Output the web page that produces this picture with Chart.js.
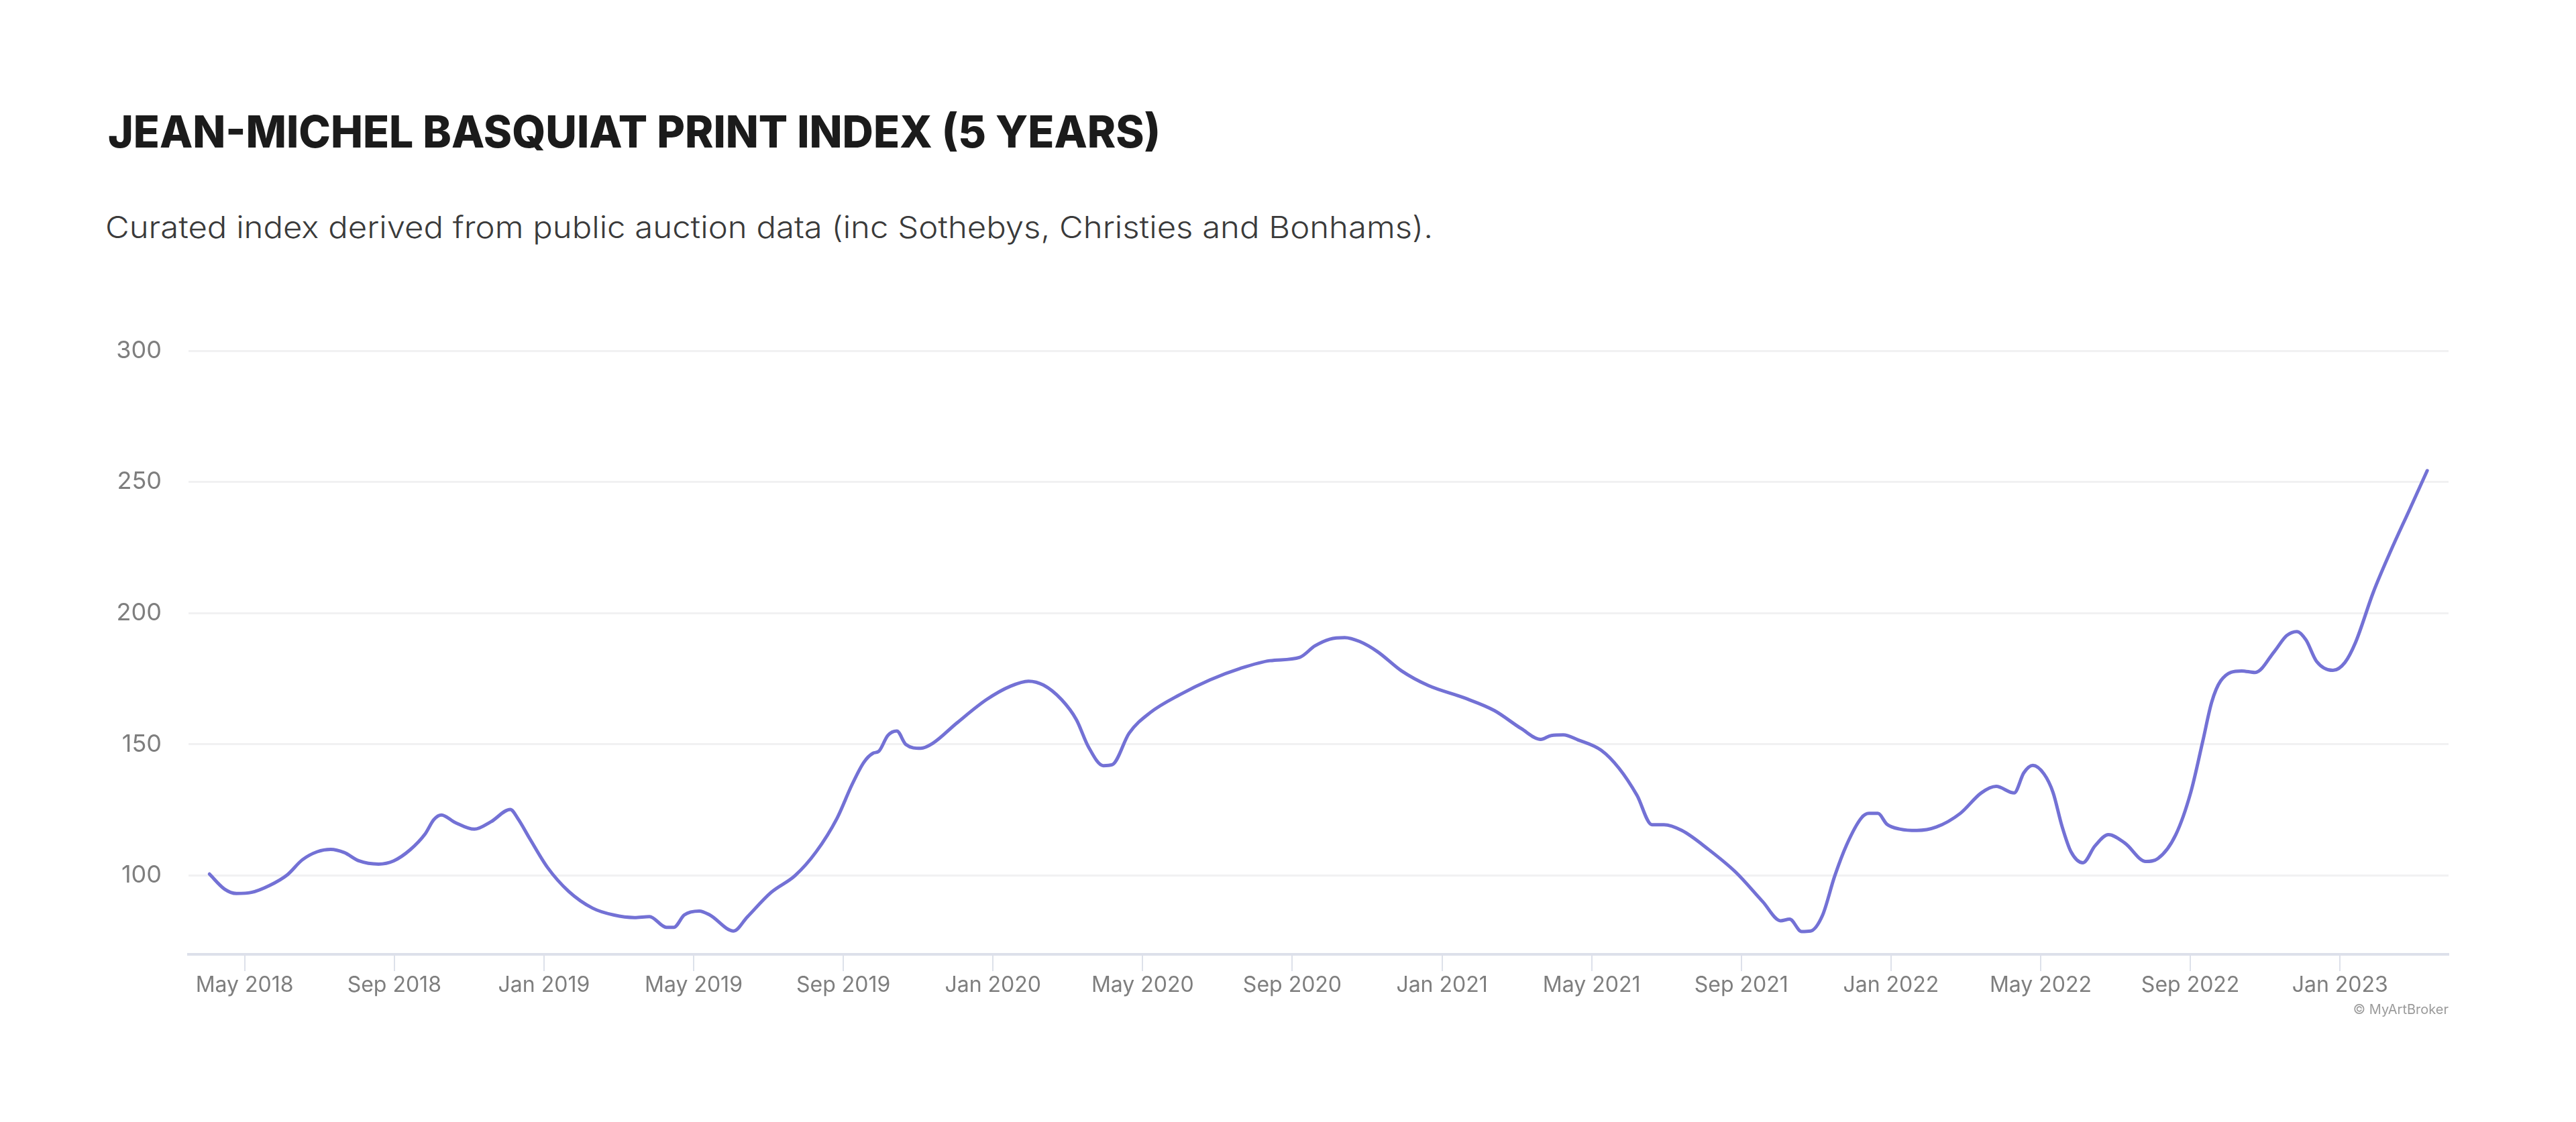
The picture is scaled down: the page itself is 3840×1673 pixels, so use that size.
<!DOCTYPE html>
<html>
<head>
<meta charset="utf-8">
<script src="https://cdn.jsdelivr.net/npm/chart.js@4.4.0/dist/chart.umd.min.js"></script>
<style>
  html, body { margin: 0; padding: 0; background: #ffffff; }
  body { width: 3840px; height: 1673px; position: relative; overflow: hidden; }
  #c { position: absolute; left: 0; top: 0; }
  .txt { position: absolute; white-space: nowrap; line-height: normal; transform-origin: 0 0; }
  #title { font-family: "Inter", "Lato", sans-serif; font-weight: 800; font-size: 66px; color: #1b1b1b; }
  #subtitle { font-family: "Inter", "Lato", sans-serif; font-weight: 300; font-size: 45px; color: #3a3a3a; }
  #credit { font-family: "Inter", sans-serif; font-weight: 400; font-size: 20px; color: #9b9b9b; }
</style>
</head>
<body>
<div id="title" class="txt">JEAN-MICHEL BASQUIAT PRINT INDEX (5 YEARS)</div>
<div id="subtitle" class="txt">Curated index derived from public auction data (inc Sothebys, Christies and Bonhams).</div>
<canvas id="c" width="3840" height="1673"></canvas>
<div id="credit" class="txt">© MyArtBroker</div>
<script>
// Position along the time axis in months since Jan 2018 (0 = Jan 2018)
const monthPos = [
  3.06, 3.46, 3.78, 4.18, 4.66, 5.14, 5.54, 5.94, 6.30, 6.66,
  7.06, 7.58, 7.98, 8.42, 8.82, 9.06, 9.26, 9.62, 10.14, 10.58,
  11.10, 11.30, 11.62, 12.10, 12.66, 13.30, 13.86, 14.42, 14.82, 15.27,
  15.47, 15.75, 16.15, 16.43, 17.07, 17.43, 18.07, 18.71, 19.27, 19.83,
  20.23, 20.55, 20.79, 20.95, 21.19, 21.43, 21.67, 22.07, 22.39, 23.03,
  23.83, 24.47, 24.95, 25.35, 25.83, 26.23, 26.55, 26.95, 27.19, 27.64,
  28.20, 29.00, 29.80, 30.60, 31.40, 32.20, 32.60, 33.00, 33.40, 33.80,
  34.28, 34.92, 35.64, 36.60, 37.40, 38.12, 38.64, 38.92, 39.24, 39.64,
  40.25, 40.73, 41.21, 41.61, 41.93, 42.41, 43.13, 43.85, 44.57, 45.05,
  45.29, 45.61, 45.85, 46.17, 46.49, 46.81, 47.21, 47.41, 47.65, 47.89,
  48.25, 48.69, 49.21, 49.85, 50.41, 50.81, 51.29, 51.55, 51.79, 52.09,
  52.33, 52.57, 52.81, 53.13, 53.45, 53.81, 54.25, 54.81, 55.13, 55.61,
  56.01, 56.33, 56.57, 56.81, 57.37, 57.73, 58.25, 58.57, 58.85, 59.09,
  59.37, 59.81, 60.13, 60.41, 60.89, 61.37, 61.85, 62.33
];
const indexValues = [
  100.6, 94.9, 93.2, 93.6, 96.2, 100.3, 106.0, 109.1, 110.0, 108.8,
  105.6, 104.4, 105.6, 109.8, 115.8, 121.4, 123.1, 120.3, 117.7, 120.5,
  125.2, 121.8, 114.1, 103.0, 94.0, 87.6, 85.0, 84.0, 84.4, 80.3,
  80.3, 85.0, 86.5, 85.0, 78.9, 84.2, 93.6, 100.0, 109.0, 121.8,
  134.6, 143.2, 146.6, 147.4, 153.4, 155.1, 150.0, 148.5, 150.4, 158.1,
  167.1, 172.2, 174.1, 172.6, 167.1, 159.4, 149.1, 141.9, 142.3, 154.3,
  162.1, 169.0, 174.6, 178.9, 181.9, 183.2, 187.5, 190.1, 190.7, 189.2,
  185.3, 178.0, 172.4, 167.7, 162.9, 156.0, 151.9, 153.4, 153.6, 151.7,
  147.8, 140.9, 130.6, 119.4, 119.4, 117.2, 109.9, 101.3, 90.1, 82.8,
  83.4, 78.7, 78.9, 84.9, 99.6, 111.6, 122.0, 123.7, 123.7, 119.6,
  117.7, 117.2, 118.5, 123.7, 131.5, 134.0, 131.5, 139.2, 142.0, 138.7,
  131.7, 118.8, 109.1, 104.9, 111.3, 115.6, 112.4, 105.4, 106.5, 115.6,
  131.7, 151.1, 166.1, 174.2, 178.0, 177.4, 185.5, 191.4, 193.0, 189.8,
  181.7, 178.2, 181.2, 188.7, 208.0, 224.2, 239.2, 254.3
];
const tickMonths = [4, 8, 12, 16, 20, 24, 28, 32, 36, 40, 44, 48, 52, 56, 60];
const tickLabels = ['May 2018', 'Sep 2018', 'Jan 2019', 'May 2019', 'Sep 2019', 'Jan 2020',
  'May 2020', 'Sep 2020', 'Jan 2021', 'May 2021', 'Sep 2021', 'Jan 2022', 'May 2022',
  'Sep 2022', 'Jan 2023'];
const yTicks = [100, 150, 200, 250, 300];

const points = monthPos.map((m, i) => ({ x: m, y: indexValues[i] }));

new Chart(document.getElementById('c'), {
  type: 'line',
  data: {
    datasets: [{
      data: points,
      borderColor: '#7371d5',
      borderWidth: 5,
      pointRadius: 0,
      pointHoverRadius: 0,
      fill: false,
      cubicInterpolationMode: 'monotone',
      borderCapStyle: 'round',
      borderJoinStyle: 'round'
    }]
  },
  options: {
    responsive: false,
    animation: false,
    devicePixelRatio: 1,
    layout: { padding: { top: 523, left: 0, right: 190, bottom: 150 } },
    plugins: { legend: { display: false }, tooltip: { enabled: false }, title: { display: false } },
    scales: {
      x: {
        type: 'linear',
        min: 2.5,
        max: 62.9,
        afterBuildTicks: (scale) => { scale.ticks = tickMonths.map(v => ({ value: v })); },
        afterFit: (scale) => { scale.height = 100; },
        ticks: {
          autoSkip: false,
          maxRotation: 0,
          padding: 2,
          color: '#7e7e7e',
          font: { family: 'Inter', size: 32, weight: 400 },
          callback: (value) => { const i = tickMonths.indexOf(value); return i >= 0 ? tickLabels[i] : ''; }
        },
        grid: { drawOnChartArea: false, drawTicks: true, tickLength: 25, color: '#dde1ea', lineWidth: 2 },
        border: { display: true, color: '#dde0ea', width: 4 }
      },
      y: {
        min: 70,
        max: 300,
        afterBuildTicks: (scale) => { scale.ticks = yTicks.map(v => ({ value: v })); },
        afterFit: (scale) => { scale.width = 281; },
        ticks: {
          padding: 40,
          color: '#7e7e7e',
          font: { family: 'Inter', size: 36, weight: 400 }
        },
        grid: { color: '#f1f1f2', lineWidth: 3, drawTicks: false },
        border: { display: false }
      }
    }
  }
});

function placeText(id, left, baseline, targetWidth, rightAlign) {
  const el = document.getElementById(id);
  el.style.left = '0px';
  el.style.top = '0px';
  const probe = document.createElement('span');
  probe.style.display = 'inline-block';
  probe.style.width = '0px';
  probe.style.height = '0px';
  probe.style.verticalAlign = 'baseline';
  el.appendChild(probe);
  const base = probe.offsetTop;
  const w = el.getBoundingClientRect().width;
  el.removeChild(probe);
  let sx = 1;
  if (targetWidth) sx = targetWidth / w;
  el.style.transform = 'scaleX(' + sx + ')';
  el.style.top = (baseline - base) + 'px';
  el.style.left = (rightAlign ? left - w * sx : left) + 'px';
}
placeText('title', 161, 220, 1569);
placeText('subtitle', 157, 355, 1979);
placeText('credit', 3650, 1512, 0, true);
</script>
</body>
</html>
